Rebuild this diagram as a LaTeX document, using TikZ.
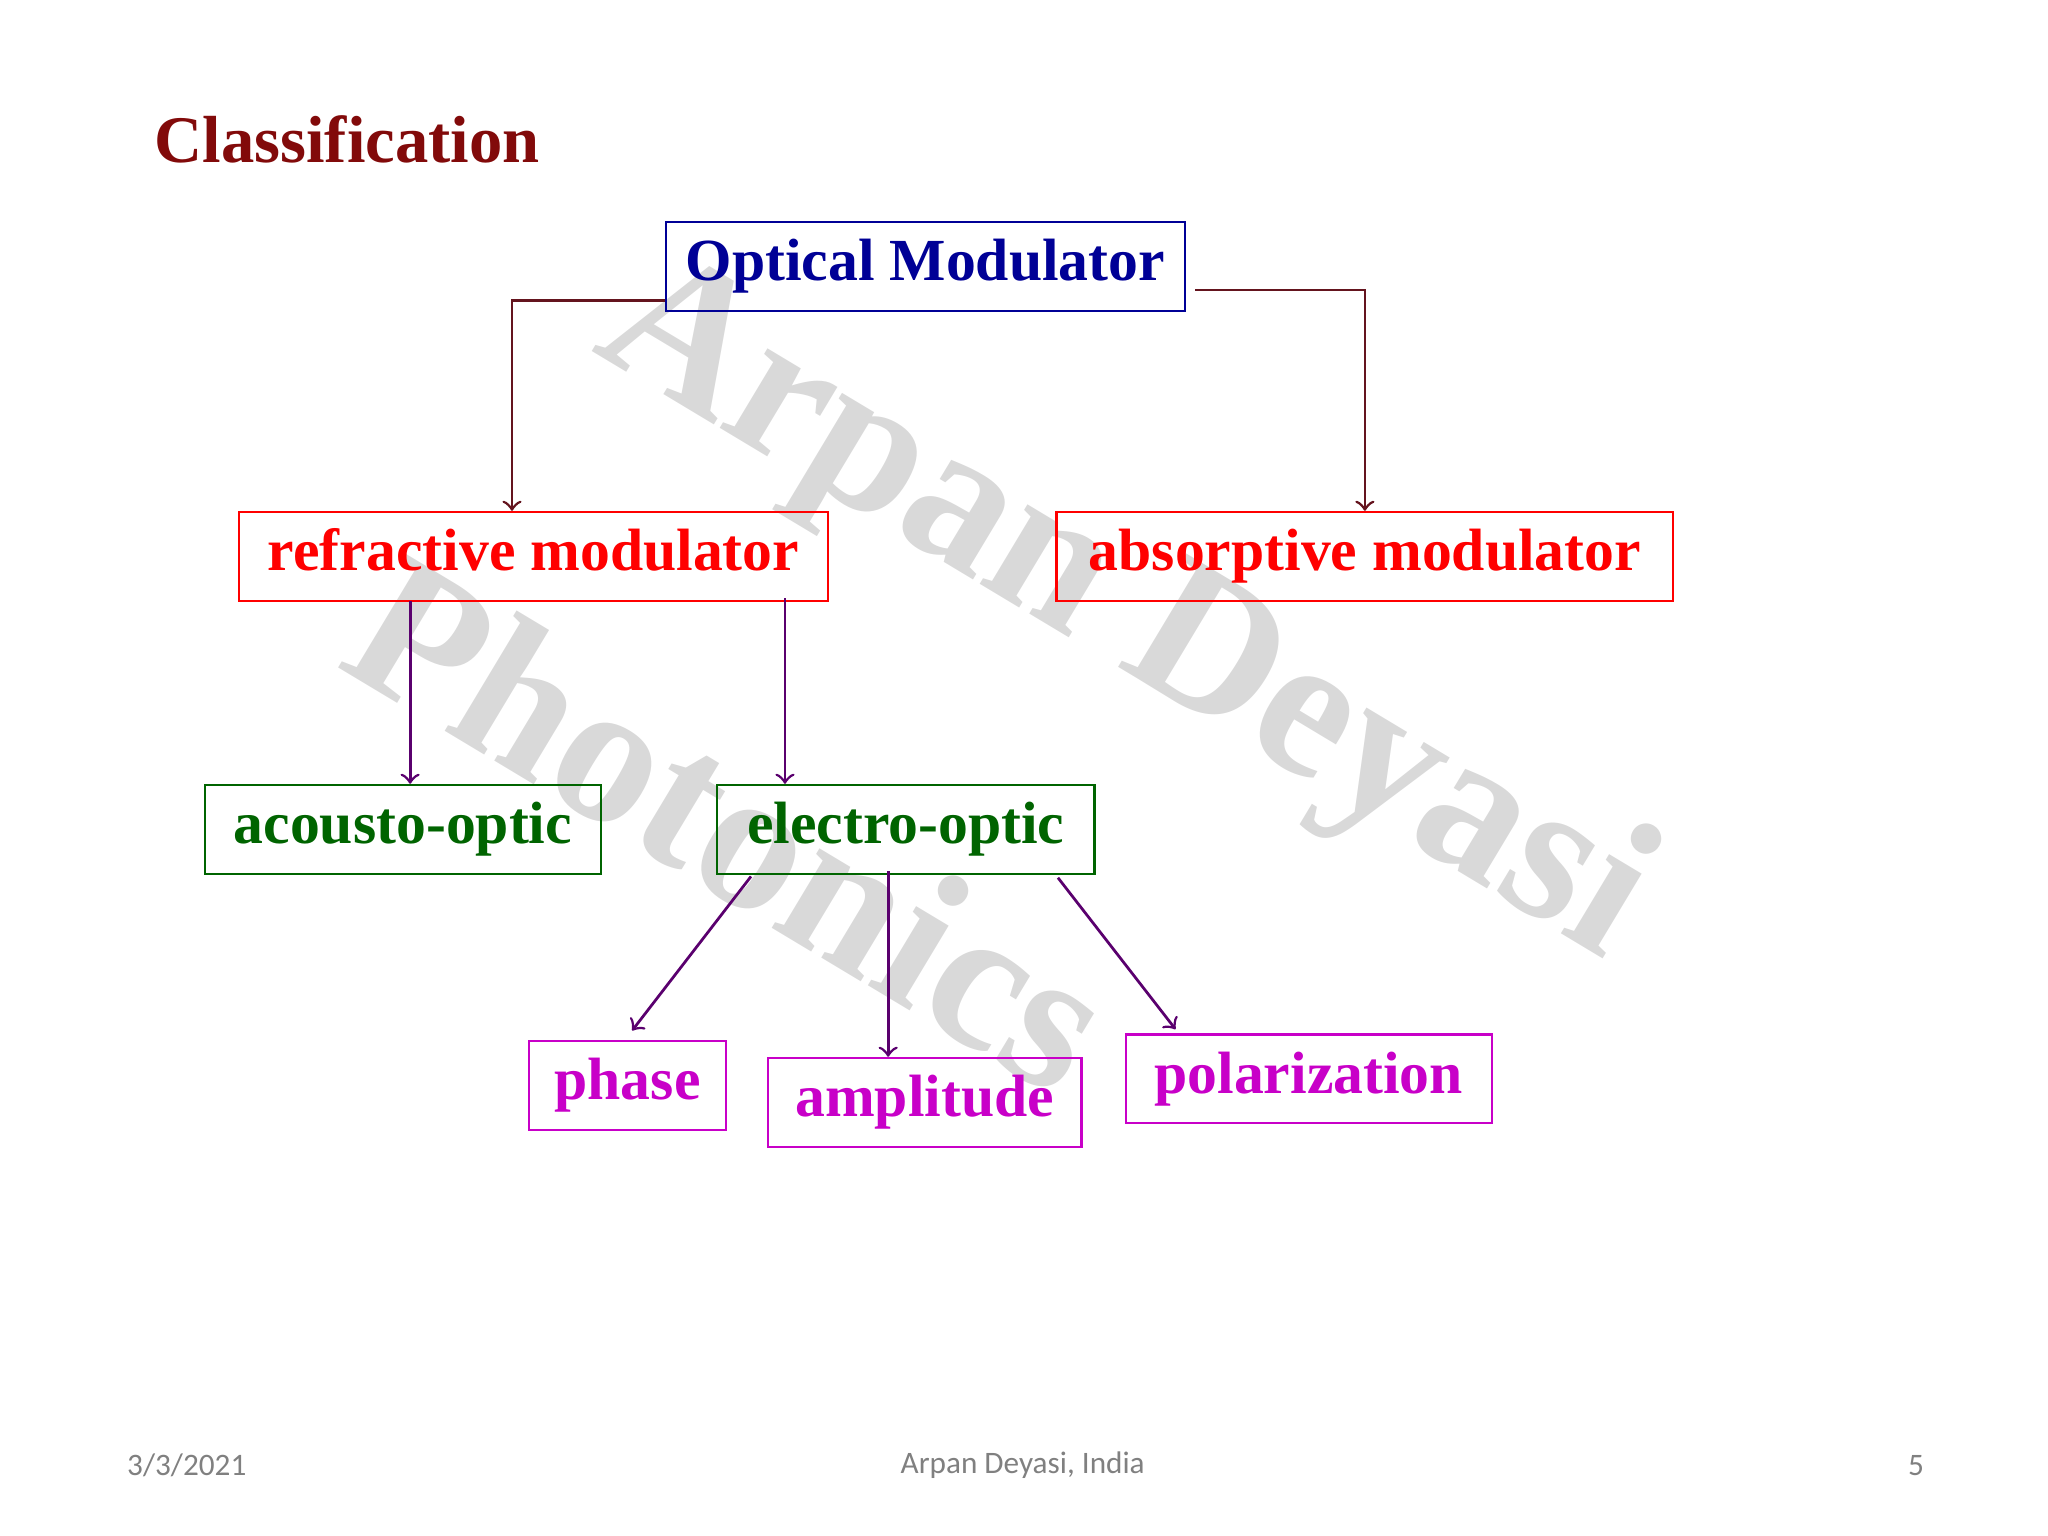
\documentclass[tikz,border=0pt]{standalone}
\usepackage{fontspec}
\setmainfont{Liberation Serif}
\newfontfamily\foot{Carlito}
\definecolor{navy}{RGB}{0,0,150}
\definecolor{tred}{RGB}{130,10,10}
\definecolor{gr}{RGB}{0,100,0}
\definecolor{mg}{RGB}{200,0,200}
\definecolor{lnk}{RGB}{100,20,30}
\definecolor{pur}{RGB}{90,0,110}
\begin{document}
\begin{tikzpicture}[x=0.01cm,y=-0.01cm,
  bx/.style={draw,line width=0.5pt,inner sep=0,text height=2.6mm,text depth=0.4mm,font=\fontsize{13}{15}\selectfont\bfseries},
  arr/.style={->,line width=0.6pt}]
\useasboundingbox (0,0) rectangle (1568,1176);
% watermark
\node[rotate=-31,text=gray!30,font=\fontsize{44}{44}\selectfont\bfseries] (w1) at (860,470) {Arpan Deyasi};
\node[rotate=-31,text=gray!30,font=\fontsize{44}{44}\selectfont\bfseries] (w2) at (560,630) {Photonics};
\node[anchor=west,text=tred,font=\fontsize{14.5}{16}\selectfont\bfseries] (t) at (106,107) {Classification};
\node[bx,draw=navy,text=navy,minimum width=3.97cm,minimum height=0.68cm] (om) at (708.5,204) {Optical Modulator};
\node[bx,draw=red,text=red,minimum width=4.51cm,minimum height=0.68cm] (rm) at (408.5,426) {refractive modulator};
\node[bx,draw=red,text=red,minimum width=4.72cm,minimum height=0.68cm] (am) at (1045,426) {absorptive modulator};
\node[bx,draw=gr,text=gr,minimum width=3.03cm,minimum height=0.68cm] (ao) at (308.5,635) {acousto-optic};
\node[bx,draw=gr,text=gr,minimum width=2.89cm,minimum height=0.68cm] (eo) at (693.5,635) {electro-optic};
\node[bx,draw=mg,text=mg,minimum width=1.51cm,minimum height=0.68cm] (ph) at (480.5,831) {phase};
\node[bx,draw=mg,text=mg,minimum width=2.40cm,minimum height=0.68cm] (amp) at (708,844) {amplitude};
\node[bx,draw=mg,text=mg,minimum width=2.80cm,minimum height=0.68cm] (po) at (1002,826) {polarization};
\draw[arr,lnk] (om.west |- 0,230) -| (rm.north -| 392,0);
\draw[arr,lnk] (915,222) -| (am.north);
\draw[arr,pur] (314,460) -- (ao.north -| 314,0);
\draw[arr,pur] (601,458) -- (eo.north -| 601,0);
\draw[arr,pur] (575,671) -- (484,789);
\draw[arr,pur] (680,667) -- (amp.north -| 680,0);
\draw[arr,pur] (810,672) -- (900,788);
\node[text=gray,font=\foot\fontsize{6.8}{8}\selectfont] (f1) at (143,1122) {3/3/2021};
\node[text=gray,font=\foot\fontsize{6.8}{8}\selectfont] (f2) at (783,1122) {Arpan Deyasi, India};
\node[text=gray,font=\foot\fontsize{6.8}{8}\selectfont] (f3) at (1467,1122) {5};
\end{tikzpicture}
\end{document}
